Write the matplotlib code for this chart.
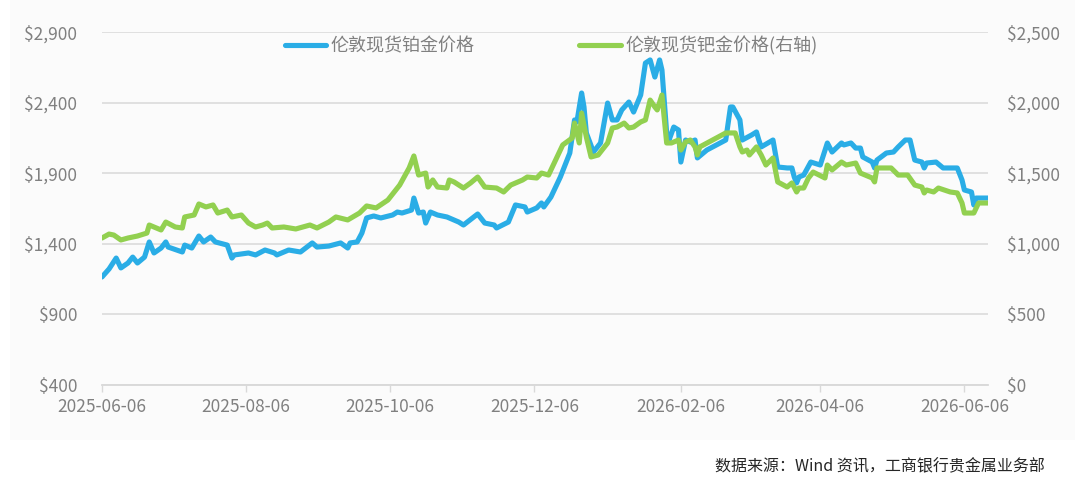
import matplotlib
matplotlib.use('Agg')
import matplotlib.pyplot as plt
import matplotlib.dates as mdates
from matplotlib.ticker import FuncFormatter
from matplotlib.patches import Rectangle
import pandas as pd

plt.rcParams['font.family'] = ['Noto Sans CJK SC', 'DejaVu Sans']

start = pd.Timestamp('2025-06-06')

# 伦敦现货铂金价格 (左轴): days since 2025-06-06, USD/oz
pt_days = [0, 3, 6, 8, 11, 13, 15, 18, 20, 22, 25, 27, 28, 34, 35, 38, 41, 43, 46, 48,
           53, 55, 56, 62, 65, 69, 73, 74, 79, 84, 89, 91, 96, 101, 104, 105, 108, 110, 112, 115,
           118, 123, 125, 127, 131, 132, 134, 136, 137, 139, 142, 146, 151, 153, 159, 162, 166, 167, 172, 175,
           179, 180, 184, 186, 187, 190, 194, 198, 200, 201, 203, 204, 205, 208, 211, 214, 216, 218, 220, 223,
           225, 228, 230, 232, 234, 236, 237, 239, 240, 242, 244, 245, 247, 249, 251, 252, 256, 264, 266, 267,
           270, 271, 275, 277, 278, 279, 284, 286, 290, 292, 293, 294, 295, 297, 300, 304, 307, 309, 313, 314,
           317, 319, 321, 322, 326, 327, 328, 332, 335, 337, 340, 342, 344, 347, 348, 349, 353, 356, 362, 364,
           365, 368, 369, 370, 375]
pt_values = [1165, 1222, 1299, 1229, 1264, 1306, 1264, 1306, 1413, 1335, 1370, 1413, 1377, 1342, 1391, 1370, 1455, 1413, 1448, 1413,
             1391, 1299, 1321, 1335, 1321, 1356, 1335, 1321, 1356, 1342, 1406, 1377, 1384, 1406, 1370, 1406, 1413, 1476, 1583, 1597,
             1583, 1604, 1625, 1618, 1639, 1724, 1618, 1625, 1547, 1625, 1604, 1590, 1554, 1533, 1611, 1547, 1533, 1512, 1554, 1675,
             1661, 1625, 1654, 1689, 1661, 1731, 1873, 2043, 2277, 2263, 2468, 2369, 2185, 2050, 2114, 2397, 2277, 2277, 2348, 2404,
             2333, 2454, 2680, 2702, 2581, 2702, 2631, 2185, 2135, 2227, 2206, 1979, 2135, 2121, 2135, 2008, 2064, 2135, 2369, 2369,
             2277, 2135, 2171, 2192, 2135, 2086, 2135, 1944, 1937, 1937, 1873, 1831, 1873, 1887, 1979, 1958, 2114, 2050, 2114, 2100,
             2114, 2078, 2078, 2015, 1979, 1937, 1993, 2043, 2050, 2086, 2135, 2135, 1993, 1979, 1937, 1972, 1979, 1937, 1937, 1852,
             1781, 1767, 1675, 1724, 1724]

# 伦敦现货钯金价格 (右轴)
pd_days = [0, 3, 5, 8, 11, 15, 19, 20, 25, 27, 31, 34, 35, 39, 41, 44, 47, 49, 53, 55,
           59, 62, 65, 68, 70, 72, 77, 82, 88, 91, 96, 99, 104, 109, 112, 116, 121, 126, 130, 132,
           134, 137, 138, 140, 142, 146, 147, 149, 153, 156, 159, 162, 167, 170, 173, 178, 180, 184, 186, 189,
           192, 195, 199, 200, 202, 203, 205, 207, 210, 214, 216, 218, 221, 223, 225, 228, 230, 232, 234, 235,
           237, 239, 241, 244, 245, 247, 249, 251, 252, 253, 264, 268, 270, 271, 273, 274, 277, 279, 281, 284,
           286, 290, 292, 294, 295, 297, 299, 301, 306, 307, 309, 313, 315, 319, 321, 326, 327, 328, 334, 337,
           341, 344, 347, 348, 349, 352, 354, 359, 362, 364, 365, 369, 371, 375]
pd_values = [1041, 1069, 1062, 1027, 1041, 1055, 1076, 1133, 1098, 1154, 1119, 1112, 1190, 1204, 1282, 1261, 1275, 1218, 1239, 1190,
             1204, 1147, 1119, 1133, 1147, 1112, 1119, 1105, 1133, 1112, 1154, 1190, 1169, 1218, 1268, 1254, 1310, 1416, 1537, 1622,
             1487, 1501, 1402, 1452, 1402, 1395, 1452, 1438, 1395, 1431, 1473, 1402, 1395, 1367, 1416, 1452, 1473, 1466, 1501, 1487,
             1593, 1700, 1749, 1855, 1714, 1926, 1756, 1615, 1629, 1714, 1820, 1827, 1855, 1820, 1827, 1863, 1877, 2018, 1969, 1948,
             2054, 1714, 1714, 1735, 1664, 1721, 1735, 1686, 1629, 1686, 1785, 1785, 1686, 1650, 1664, 1629, 1686, 1629, 1558, 1608,
             1438, 1402, 1431, 1367, 1395, 1395, 1466, 1508, 1466, 1558, 1523, 1579, 1558, 1572, 1501, 1466, 1438, 1537, 1537, 1487,
             1487, 1416, 1402, 1360, 1381, 1367, 1395, 1367, 1360, 1289, 1218, 1218, 1289, 1289]

tick_dates = ['2025-06-06', '2025-08-06', '2025-10-06', '2025-12-06',
              '2026-02-06', '2026-04-06', '2026-06-06']
left_ticks = [400, 900, 1400, 1900, 2400, 2900]
right_ticks = [0, 500, 1000, 1500, 2000, 2500]

pt_dates = start + pd.to_timedelta(pt_days, unit='D')
pd_dates = start + pd.to_timedelta(pd_days, unit='D')

blue = '#2AADE6'
green = '#92D050'
gray_txt = '#808080'
grid_c = '#D9D9D9'

fig = plt.figure(figsize=(10.8, 4.86), dpi=100)
fig.patches.append(Rectangle((10 / 1080, 1 - 440 / 486), 1065 / 1080, 440 / 486,
                             transform=fig.transFigure, facecolor='#FBFBFB',
                             edgecolor='none', zorder=-10))

ax = fig.add_axes([102 / 1080, 1 - 385 / 486, 886 / 1080, 353 / 486])
ax.set_facecolor('none')
ax2 = ax.twinx()

l1, = ax.plot(pt_dates, pt_values, color=blue, linewidth=3.7,
              solid_joinstyle='round', solid_capstyle='round', label='伦敦现货铂金价格')
l2, = ax2.plot(pd_dates, pd_values, color=green, linewidth=3.7,
               solid_joinstyle='round', solid_capstyle='round', label='伦敦现货钯金价格(右轴)')

ax.set_ylim(400, 2900)
ax2.set_ylim(0, 2500)
ax.set_yticks(left_ticks)
ax2.set_yticks(right_ticks)
money = FuncFormatter(lambda v, p: f'${v:,.0f}')
ax.yaxis.set_major_formatter(money)
ax2.yaxis.set_major_formatter(money)

ax.set_xlim(start, start + pd.Timedelta(days=375))
ax.set_xticks(pd.to_datetime(tick_dates))
ax.xaxis.set_major_formatter(mdates.DateFormatter('%Y-%m-%d'))

ax.grid(axis='y', color=grid_c, linewidth=1.1)
ax.set_axisbelow(True)

for a in (ax, ax2):
    for s in ('top', 'left', 'right'):
        a.spines[s].set_visible(False)
    a.spines['bottom'].set_color(grid_c)
    a.spines['bottom'].set_linewidth(1.1)

ax.tick_params(axis='y', length=0, pad=18, labelsize=12.5, labelcolor=gray_txt)
ax2.tick_params(axis='y', length=0, pad=14, labelsize=12.5, labelcolor=gray_txt)
ax.tick_params(axis='x', length=5, width=1, color=grid_c, pad=4,
               labelsize=12.5, labelcolor=gray_txt)

leg = ax2.legend(handles=[l1, l2], loc='center', bbox_to_anchor=(0.507, 0.96),
                 ncol=2, frameon=False, fontsize=13, handlelength=2.3,
                 handletextpad=0.25, columnspacing=5.8)
for t in leg.get_texts():
    t.set_color(gray_txt)

fig.text(1045 / 1080, 1 - 467 / 486, '数据来源：Wind 资讯，工商银行贵金属业务部',
         ha='right', va='center', fontsize=11.5, color='#262626')

fig.savefig('out.png', dpi=100)
